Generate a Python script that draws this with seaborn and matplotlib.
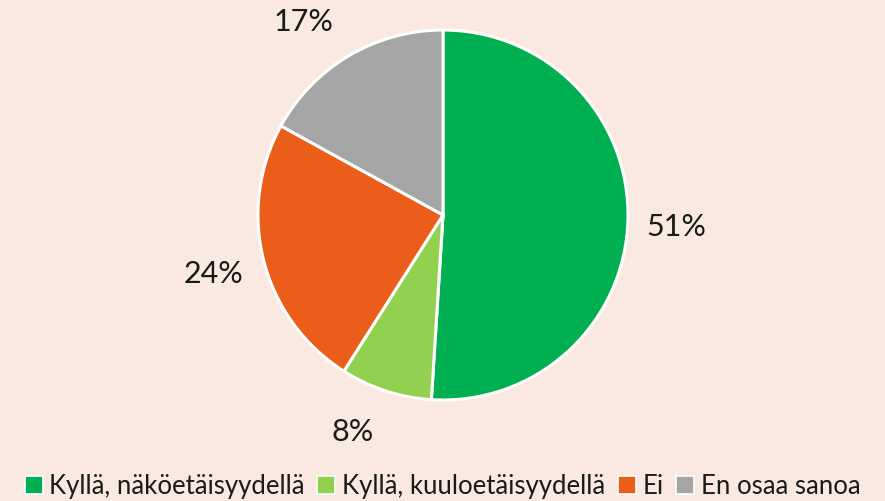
import matplotlib
matplotlib.use("Agg")
import matplotlib.pyplot as plt
from matplotlib.patches import Patch
import seaborn as sns

categories = ["Kyllä, näköetäisyydellä", "Kyllä, kuuloetäisyydellä", "Ei", "En osaa sanoa"]
values = [51, 8, 24, 17]
colors = ["#00B050", "#92D050", "#EB5E1A", "#A5A5A5"]
bg = "#F9E9E1"

sns.set_theme(style="white")
plt.rcParams['font.family'] = ['Lato', 'DejaVu Sans']

W, H = 885, 502
fig = plt.figure(figsize=(W / 100, H / 100), dpi=100)
fig.patch.set_facecolor(bg)
cx, cy, r = 443, 216, 185
ax = fig.add_axes([(cx - r) / W, (H - cy - r) / H, 2 * r / W, 2 * r / H])
ax.set_facecolor(bg)

wedges, texts, autotexts = ax.pie(
    values, colors=colors, startangle=90, counterclock=False,
    autopct=lambda p: f"{p:.0f}%", pctdistance=1.26,
    wedgeprops=dict(edgecolor="white", linewidth=2.2),
    textprops=dict(fontsize=22, color="#1a1a1a"), radius=1)
# nudge labels slightly like the reference's best-fit placement
for t, (ddx, ddy) in zip(autotexts, [(0, -0.02), (-0.1, 0.03), (-0.02, 0.0), (-0.115, -0.035)]):
    x, y = t.get_position()
    t.set_position((x + ddx, y + ddy))
ax.set_xlim(-1, 1)
ax.set_ylim(-1, 1)
ax.axis("off")

handles = [Patch(facecolor=c, edgecolor="white", linewidth=1.2) for c in colors]
fig.legend(handles, categories, loc="center", bbox_to_anchor=(0.5, 1 - 487 / H),
           ncol=4, frameon=False, fontsize=18.5, handlelength=0.7, handleheight=0.7,
           handletextpad=0.25, columnspacing=0.5, labelcolor="#1a1a1a",
           borderaxespad=0, borderpad=0)

fig.savefig("out.png", dpi=100, facecolor=bg)
